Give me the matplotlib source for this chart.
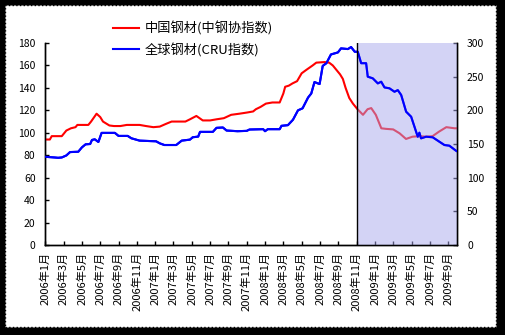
import matplotlib
matplotlib.use("Agg")
import matplotlib.pyplot as plt
from matplotlib.patches import Rectangle

plt.rcParams['font.family'] = ['Noto Sans CJK SC', 'DejaVu Sans']

# months since Jan 2006
red_t = [0, 0.5, 0.7, 1.8, 2.3, 2.8, 3.3, 3.5, 4.7, 5.0, 5.6, 6.0, 6.3, 7.0, 7.5,
         8.2, 8.9, 10.3, 11.0, 11.8, 12.5, 13.2, 13.8, 14.7, 15.3, 15.8, 16.5,
         17.2, 18.0, 18.7, 19.5, 20.3, 21.2, 22.0, 22.7, 23.0, 23.5, 24.1, 24.8,
         25.6, 26.0, 26.2, 26.6, 27.0, 27.5, 28.0, 28.5, 29.2, 29.6, 30.5, 31.0,
         31.4, 31.8, 32.2, 32.5, 32.8, 33.2, 33.6, 34.1, 34.7, 35.2, 35.6, 36.1,
         36.7, 37.2, 38.0, 38.7, 39.4, 40.1, 40.9, 41.6, 42.3, 43.0, 43.8, 44.7, 45.0]
red_v = [94, 94, 97, 97, 102, 104, 105, 107, 107, 110, 117, 114, 110, 106.5, 106,
         106, 107, 107, 106, 105, 105.5, 108, 110, 110, 110, 112, 115,
         111, 111, 112, 113, 116, 117, 118, 119, 121, 123, 126, 127,
         127, 135, 141, 142, 144, 146, 153, 156, 160, 162.5, 163, 162.5,
         160, 156, 152, 148, 140, 131, 126, 121, 116, 121, 122, 116,
         104, 103.5, 103, 99.5, 94.5, 96.5, 97, 96.5, 97, 101, 105, 104, 104]

blue_t = [0, 1.0, 1.4, 1.8, 2.3, 2.7, 3.6, 4.0, 4.4, 4.9, 5.1, 5.4, 5.8, 6.15,
          7.6, 8.0, 9.0, 9.4, 10.3, 12.1, 12.5, 13.0, 14.3, 14.9, 15.8, 16.1,
          16.7, 16.9, 18.3, 18.7, 19.4, 19.8, 21.0, 22.0, 22.3, 23.8, 24.0, 24.3,
          25.6, 25.8, 26.5, 27.05, 27.6, 28.1, 28.7, 29.05, 29.4, 29.96, 30.3,
          30.7, 31.2, 31.96, 32.3, 33.05, 33.4, 33.8, 34.13, 34.5, 35.04, 35.22,
          35.77, 36.32, 36.69, 37.05, 37.59, 38.14, 38.5, 38.87, 39.41, 39.96,
          40.32, 40.68, 40.86, 41.04, 41.59, 42.31, 43.04, 43.59, 44.13, 44.86, 45.0]
blue_v = [131, 130, 129.5, 130, 133, 138, 138.5, 145, 149.5, 150, 156, 157, 153, 166.5,
          166.5, 162, 162, 158.5, 155, 154, 151, 148.5, 148.5, 155, 156.5, 160,
          161, 168, 168, 174, 174.5, 170, 169, 169.5, 171.5, 172, 169, 172,
          172, 177, 178, 186, 200, 203, 219, 225, 242, 239, 266,
          270, 283, 286, 292, 291, 294, 287, 287, 270, 270, 250,
          247.5, 240, 242.5, 234, 232.7, 227.6, 230, 222.8, 198, 190.5,
          175.7, 160.8, 166.8, 158.4, 160.8, 160, 153.4, 148.5, 147.5, 140, 139]

tick_pos = list(range(0, 45, 2))
tick_labels = [f"{2006 + m // 12}年{m % 12 + 1}月" for m in tick_pos]

label_red = "中国钢材(中钢协指数)"
label_blue = "全球钢材(CRU指数)"

fig = plt.figure(figsize=(5.05, 3.35), dpi=100, facecolor="black")
fig.patches.append(Rectangle((5 / 505, 8 / 335), 491 / 505, 322 / 335,
                             transform=fig.transFigure, facecolor="white",
                             edgecolor="black", linestyle=":", linewidth=1.0,
                             zorder=-10))

ax = fig.add_axes([45.3 / 505, 90 / 335, 412 / 505, 202 / 335])
ax2 = ax.twinx()
ax.set_zorder(ax2.get_zorder() + 1)
ax.patch.set_visible(False)
ax2.patch.set_visible(False)

l1, = ax.plot(red_t, red_v, color="#ff0000", lw=1.5, zorder=2)
ax.axvspan(34, 45, facecolor="#a8a8ec", alpha=0.5, lw=0, zorder=2.5)
ax.axvline(34, color="black", lw=1.0, zorder=4)
l2, = ax2.plot(blue_t, blue_v, color="#0000ff", lw=1.5)
# draw blue again on top of the shading
ax.plot(blue_t, [v * 180 / 300 for v in blue_v], color="#0000ff", lw=1.5, zorder=3)

ax.set_xlim(0, 45)
ax.set_ylim(0, 180)
ax2.set_ylim(0, 300)
ax.set_yticks(range(0, 181, 20))
ax2.set_yticks(range(0, 301, 50))
ax.set_xticks(tick_pos)
ax.set_xticklabels(tick_labels, rotation=90, fontsize=8)

for a in (ax, ax2):
    a.spines["top"].set_visible(False)
    for s in a.spines.values():
        s.set_linewidth(1.0)
    a.tick_params(direction="in", length=3, width=1.0, labelsize=7.5, pad=7)
ax.tick_params(axis="x", pad=5, labelsize=8)

ax.legend([l1, l2], [label_red, label_blue], loc="upper left",
          bbox_to_anchor=(0.135, 1.165), frameon=False, fontsize=9.5,
          handlelength=2.0, handletextpad=0.4, labelspacing=0.55)

fig.savefig("out.png", dpi=100, facecolor="black")
